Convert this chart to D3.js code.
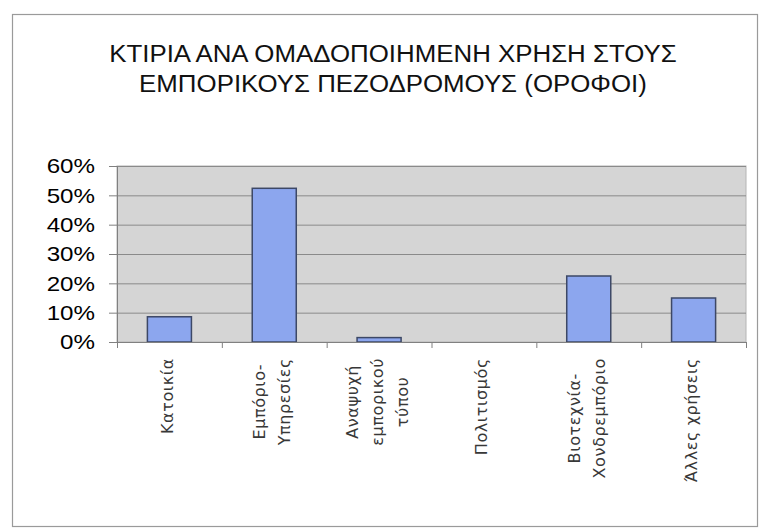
<!DOCTYPE html>
<html>
<head>
<meta charset="utf-8">
<script src="https://cdn.jsdelivr.net/npm/d3@7.9.0/dist/d3.min.js"></script>
<style>
  body { margin: 0; background: #fff; }
  svg { display: block; }
</style>
</head>
<body>
<div id="chart"></div>
<script>
// Chart data
const titleLines = [
  'ΚΤΙΡΙΑ ΑΝΑ ΟΜΑΔΟΠΟΙΗΜΕΝΗ ΧΡΗΣΗ ΣΤΟΥΣ',
  'ΕΜΠΟΡΙΚΟΥΣ ΠΕΖΟΔΡΟΜΟΥΣ (ΟΡΟΦΟΙ)'
];
const categories = [
  ['Κατοικία'],
  ['Εμπόριο-', 'Υπηρεσίες'],
  ['Αναψυχή', 'εμπορικού', 'τύπου'],
  ['Πολιτισμός'],
  ['Βιοτεχνία-', 'Χονδρεμπόριο'],
  ['Άλλες χρήσεις']
];
const values = [8.6, 52.4, 1.5, 0, 22.5, 15]; // percent
const yTicks = [0, 10, 20, 30, 40, 50, 60];

const width = 764;
const height = 530;

const svg = d3.select('#chart')
  .append('svg')
  .attr('width', width)
  .attr('height', height);

// outer chart frame
svg.append('rect')
  .attr('x', 12.5).attr('y', 14.5)
  .attr('width', 745).attr('height', 512)
  .attr('fill', '#fff')
  .attr('stroke', '#9a9a9a')
  .attr('stroke-width', 1.2);

// title (old Arial rendering is a bit wider, so stretch each line slightly)
const titleText = svg.append('g')
  .selectAll('text')
  .data(titleLines)
  .join('text')
  .attr('x', 393)
  .attr('y', (d, i) => 62 + i * 30)
  .attr('text-anchor', 'middle')
  .style('font-family', '"Liberation Sans", Arial, sans-serif')
  .style('font-size', '23.5px')
  .attr('fill', '#111')
  .text(d => d);
titleText.each(function () {
  const w = this.getComputedTextLength();
  d3.select(this).attr('textLength', w * 1.1).attr('lengthAdjust', 'spacingAndGlyphs');
});

// plot area
const plot = { left: 117, right: 746, top: 166, bottom: 342 };

const xScale = d3.scaleBand()
  .domain(d3.range(categories.length))
  .range([plot.left, plot.right])
  .paddingInner(0.58)
  .paddingOuter(0.29);

const xBounds = d3.scaleLinear()
  .domain([0, categories.length])
  .range([plot.left, plot.right]);

const yScale = d3.scaleLinear()
  .domain([0, 60])
  .range([plot.bottom, plot.top]);

svg.append('rect')
  .attr('x', plot.left).attr('y', plot.top)
  .attr('width', plot.right - plot.left)
  .attr('height', plot.bottom - plot.top)
  .attr('fill', '#d5d5d5')
  .attr('stroke', '#b4b4b4');

// gridlines
const grid = svg.append('g')
  .attr('transform', `translate(${plot.left},0)`)
  .call(d3.axisLeft(yScale).tickValues(yTicks).tickFormat('').tickSize(-(plot.right - plot.left)));
grid.select('.domain').remove();
grid.selectAll('line').attr('stroke', '#8a8a8a');

// bars
svg.append('g')
  .selectAll('rect')
  .data(values)
  .join('rect')
  .attr('x', (d, i) => xScale(i))
  .attr('y', d => yScale(d))
  .attr('width', xScale.bandwidth())
  .attr('height', d => yScale(0) - yScale(d))
  .attr('fill', '#8ca6ee')
  .attr('stroke', '#3d4866')
  .attr('stroke-width', 1.5);

// y axis
const yAxis = svg.append('g')
  .attr('transform', `translate(${plot.left},0)`)
  .call(d3.axisLeft(yScale).tickValues(yTicks).tickSize(8).tickPadding(14).tickFormat(d => d + '%'));
yAxis.select('.domain').attr('stroke', '#808080');
yAxis.selectAll('line').attr('stroke', '#808080');
yAxis.selectAll('text')
  .attr('fill', '#000')
  .style('font-family', '"Liberation Sans", Arial, sans-serif')
  .style('font-size', '21px')
  .each(function () {
    const w = this.getComputedTextLength();
    d3.select(this).attr('textLength', w * 1.15).attr('lengthAdjust', 'spacingAndGlyphs');
  });

// x axis with ticks on category boundaries
const xAxis = svg.append('g')
  .attr('transform', `translate(0,${plot.bottom})`)
  .call(d3.axisBottom(xBounds).ticks(categories.length).tickSize(6).tickFormat(''));
xAxis.select('.domain').attr('stroke', '#808080');
xAxis.selectAll('line').attr('stroke', '#808080');

// rotated category labels, lines centred in a block hanging under the axis
const labelFont = '"DejaVu Sans", Verdana, sans-serif';
const labelSize = 16;
const lineGap = 25;
const labels = svg.append('g');
categories.forEach((lines, i) => {
  const cx = xScale(i) + xScale.bandwidth() / 2;
  const g = labels.append('g');
  const texts = g.selectAll('text')
    .data(lines)
    .join('text')
    .attr('text-anchor', 'middle')
    .attr('dominant-baseline', 'central')
    .style('font-family', labelFont)
    .style('font-size', labelSize + 'px')
    .style('letter-spacing', '0.6px')
    .attr('fill', '#383838')
    .text(d => d);
  const maxLen = d3.max(texts.nodes(), n => n.getComputedTextLength());
  const cy = plot.bottom + 16 + maxLen / 2;
  texts.attr('transform', (d, j) => {
    const x = cx - 2 + (j - (lines.length - 1) / 2) * lineGap;
    return `translate(${x},${cy}) rotate(-90)`;
  });
});
</script>
</body>
</html>
